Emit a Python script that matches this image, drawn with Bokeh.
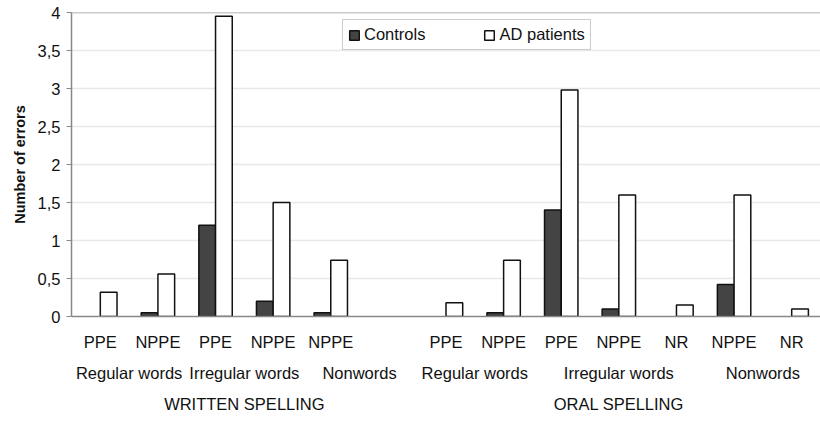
from bokeh.plotting import figure
from bokeh.models import FactorRange, Legend, LegendItem, ColumnDataSource, FixedTicker, Span
from bokeh.transform import dodge
from bokeh.embed import file_html
from bokeh.resources import INLINE

sections = ["WRITTEN SPELLING"] * 6 + ["ORAL SPELLING"] * 7
groups = ["Regular words", "Regular words", "Irregular words", "Irregular words", "Nonwords", "Nonwords",
          "Regular words", "Regular words", "Irregular words", "Irregular words", "Irregular words",
          "Nonwords", "Nonwords"]
error_types = ["PPE", "NPPE", "PPE", "NPPE", "NPPE", "",
               "PPE", "NPPE", "PPE", "NPPE", "NR", "NPPE", "NR"]
controls = [0, 0.05, 1.2, 0.2, 0.05, None, 0, 0.05, 1.4, 0.1, 0, 0.42, 0]
ad_patients = [0.32, 0.56, 3.95, 1.5, 0.74, None, 0.18, 0.74, 2.98, 1.6, 0.15, 1.6, 0.1]
y_ticks = [0, 0.5, 1, 1.5, 2, 2.5, 3, 3.5, 4]
y_tick_labels = ["0", "0,5", "1", "1,5", "2", "2,5", "3", "3,5", "4"]

factors = list(zip(sections, groups, error_types))

FONT = "Liberation Sans"
TXT = "16.5px"

x_range = FactorRange(*factors, group_padding=0, subgroup_padding=0, factor_padding=0, range_padding=0)
p = figure(x_range=x_range, y_range=(0, 4), output_backend="svg", toolbar_location=None,
           frame_width=749, frame_height=304, min_border_left=71, min_border_right=0,
           min_border_top=12, min_border_bottom=0, background_fill_color="white",
           border_fill_color="white", outline_line_color=None)

def source_for(values):
    xs, tops = [], []
    for f, v in zip(factors, values):
        if v is None or v == 0:
            continue
        xs.append(f)
        tops.append(v)
    return ColumnDataSource(data=dict(x=xs, top=tops))

src_c = source_for(controls)
src_a = source_for(ad_patients)

r_c = p.vbar(x=dodge("x", -0.145, range=p.x_range), top="top", width=0.29, source=src_c,
             fill_color="#444444", line_color="#111111", line_width=1.5)
r_a = p.vbar(x=dodge("x", 0.145, range=p.x_range), top="top", width=0.29, source=src_a,
             fill_color="white", line_color="#111111", line_width=1.5)

p.add_layout(Span(location=4, dimension="width", line_color="#999999", line_width=1.5))

# grid
p.xgrid.grid_line_color = None
p.ygrid.grid_line_color = "#e8e8e8"
p.ygrid.grid_line_width = 1.5
p.ygrid.ticker = FixedTicker(ticks=y_ticks)

# y axis
p.yaxis.ticker = FixedTicker(ticks=y_ticks)
p.yaxis.major_label_overrides = {t: l for t, l in zip(y_ticks, y_tick_labels)}
p.yaxis.axis_label = "Number of errors"
p.yaxis.axis_label_text_font = FONT
p.yaxis.axis_label_text_font_size = "14.5px"
p.yaxis.axis_label_text_font_style = "bold"
p.yaxis.axis_label_text_color = "#111111"
p.yaxis.axis_label_standoff = 7
p.yaxis.major_label_text_font = FONT
p.yaxis.major_label_text_font_size = "16.5px"
p.yaxis.major_label_text_color = "#111111"
p.yaxis.major_label_standoff = 6
p.yaxis.axis_line_color = "#888888"
p.yaxis.axis_line_width = 1.5
p.yaxis.major_tick_line_color = "#888888"
p.yaxis.major_tick_out = 5
p.yaxis.major_tick_in = 0
p.yaxis.minor_tick_line_color = None

# x axis
xa = p.xaxis[0]
xa.axis_line_color = "#888888"
xa.axis_line_width = 1.5
xa.major_tick_line_color = None
xa.minor_tick_line_color = None
xa.major_label_text_font = FONT
xa.major_label_text_font_size = TXT
xa.major_label_text_color = "#111111"
xa.major_label_standoff = 10
xa.major_label_orientation = "horizontal"
xa.subgroup_text_font = FONT
xa.subgroup_text_font_size = TXT
xa.subgroup_text_font_style = "normal"
xa.subgroup_text_color = "#111111"
xa.group_text_font = FONT
xa.group_text_font_size = TXT
xa.group_text_font_style = "normal"
xa.group_text_color = "#111111"
xa.separator_line_color = None

legend = Legend(items=[LegendItem(label="Controls", renderers=[r_c]),
                       LegendItem(label="AD patients", renderers=[r_a])],
                orientation="horizontal", location=(271, 266),
                label_text_font=FONT, label_text_font_size=TXT, label_text_color="#111111",
                glyph_width=12, glyph_height=12, label_standoff=4, spacing=58,
                padding=5, margin=0, label_height=18,
                border_line_color="#999999", border_line_width=1.5,
                background_fill_color="white", background_fill_alpha=1)
p.add_layout(legend, "center")

open("out.html", "w").write(file_html(p, INLINE))
